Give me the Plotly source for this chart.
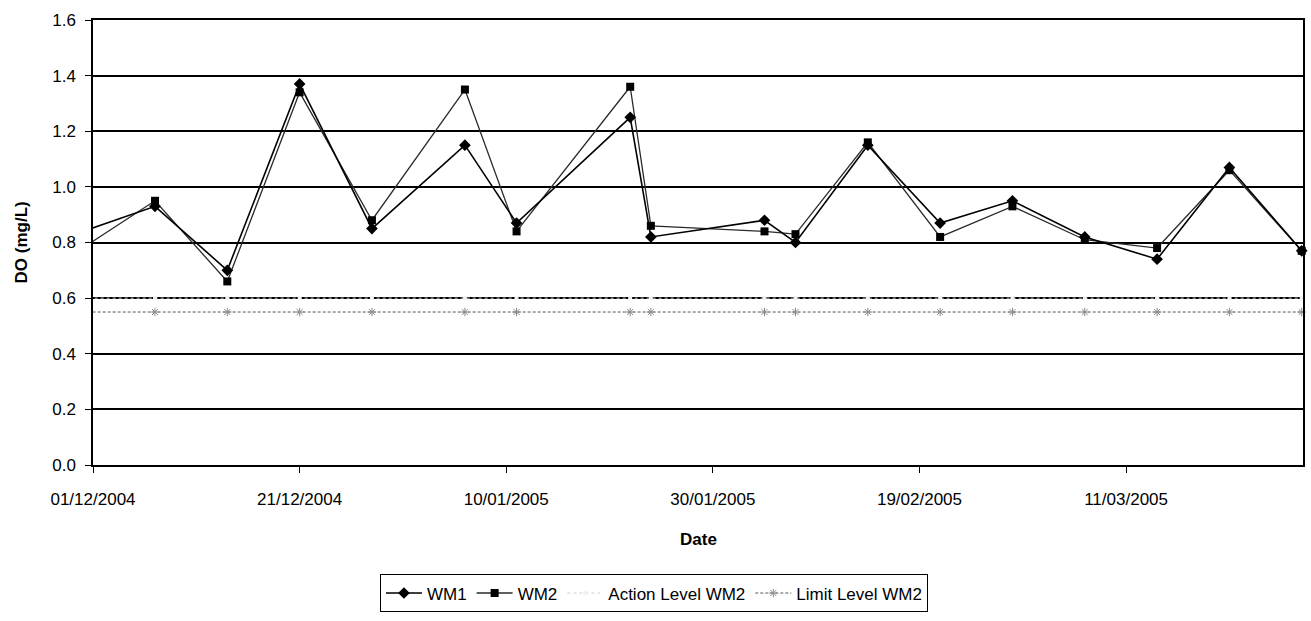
import plotly.graph_objects as go

dates = ["2004-11-30", "2004-12-07", "2004-12-14", "2004-12-21", "2004-12-28",
         "2005-01-06", "2005-01-11", "2005-01-22", "2005-01-24", "2005-02-04",
         "2005-02-07", "2005-02-14", "2005-02-21", "2005-02-28", "2005-03-07",
         "2005-03-14", "2005-03-21", "2005-03-28"]
wm1 = [0.84, 0.93, 0.70, 1.37, 0.85, 1.15, 0.87, 1.25, 0.82, 0.88,
       0.80, 1.15, 0.87, 0.95, 0.82, 0.74, 1.07, 0.77]
wm2 = [0.78, 0.95, 0.66, 1.34, 0.88, 1.35, 0.84, 1.36, 0.86, 0.84,
       0.83, 1.16, 0.82, 0.93, 0.81, 0.78, 1.06, 0.77]
action_level = [0.60] * len(dates)
limit_level = [0.55] * len(dates)

tick_dates = ["2004-12-01", "2004-12-21", "2005-01-10", "2005-01-30",
              "2005-02-19", "2005-03-11"]
tick_labels = ["01/12/2004", "21/12/2004", "10/01/2005", "30/01/2005",
               "19/02/2005", "11/03/2005"]
y_ticks = [0.0, 0.2, 0.4, 0.6, 0.8, 1.0, 1.2, 1.4, 1.6]

x_start = "2004-12-01"
x_end = "2005-03-28 03:00"

font = "Liberation Sans, Arial, sans-serif"

fig = go.Figure()
fig.add_trace(go.Scatter(
    x=dates, y=limit_level, name="Limit Level WM2", mode="lines+markers",
    line=dict(color="#555555", width=1, dash="3px,2px"),
    marker=dict(symbol="asterisk-open", size=7, color="#8a8a8a",
                line=dict(width=1, color="#8a8a8a")),
    cliponaxis=False))
fig.add_trace(go.Scatter(
    x=dates, y=action_level, name="Action Level WM2", mode="lines+markers",
    line=dict(color="#d0d0d0", width=1, dash="dot"),
    marker=dict(symbol="square", size=4, color="#f2f2f2"),
    cliponaxis=False))
fig.add_trace(go.Scatter(
    x=dates, y=wm2, name="WM2", mode="lines+markers",
    line=dict(color="#2a2a2a", width=1.3),
    marker=dict(symbol="square", size=8, color="black"),
    cliponaxis=False))
fig.add_trace(go.Scatter(
    x=dates, y=wm1, name="WM1", mode="lines+markers",
    line=dict(color="black", width=1.6),
    marker=dict(symbol="diamond", size=9, color="black"),
    cliponaxis=False))

fig.update_layout(
    width=1311, height=621,
    margin=dict(l=93, r=8, t=20, b=143),
    paper_bgcolor="white", plot_bgcolor="white",
    font=dict(family=font, size=17, color="black"),
    showlegend=True,
    legend=dict(orientation="h", x=0.4636, xanchor="center", y=-0.246,
                yanchor="top", bordercolor="black", borderwidth=1,
                traceorder="reversed", font=dict(size=17),
                itemwidth=36, tracegroupgap=0),
    xaxis=dict(
        type="date", range=[x_start, x_end], automargin=False,
        tickvals=tick_dates, ticktext=tick_labels,
        ticks="outside", ticklen=6, tickcolor="black",
        ticklabelstandoff=12,
        showline=True, linecolor="black", linewidth=1.5, mirror=True,
        showgrid=False, zeroline=False,
        tickfont=dict(size=17)),
    yaxis=dict(
        range=[0, 1.6], tickvals=y_ticks, tickformat=".1f", automargin=False,
        ticks="outside", ticklen=6, tickcolor="black",
        ticklabelstandoff=6,
        showline=True, linecolor="black", linewidth=1.5, mirror=True,
        showgrid=True, gridcolor="black", gridwidth=1.5, zeroline=False,
        tickfont=dict(size=17)),
    annotations=[
        dict(text="<b>DO (mg/L)</b>", xref="paper", yref="paper",
             x=-0.0587, y=0.5, xanchor="center", yanchor="middle",
             textangle=-90, showarrow=False, font=dict(size=17)),
        dict(text="<b>Date</b>", xref="paper", yref="paper",
             x=0.5, y=-0.168, xanchor="center", yanchor="middle",
             showarrow=False, font=dict(size=17)),
    ],
)

fig.write_html(
    "out.html",
    config={"displayModeBar": False},
    post_script="document.body.style.margin='0';document.body.style.overflow='hidden';",
)
